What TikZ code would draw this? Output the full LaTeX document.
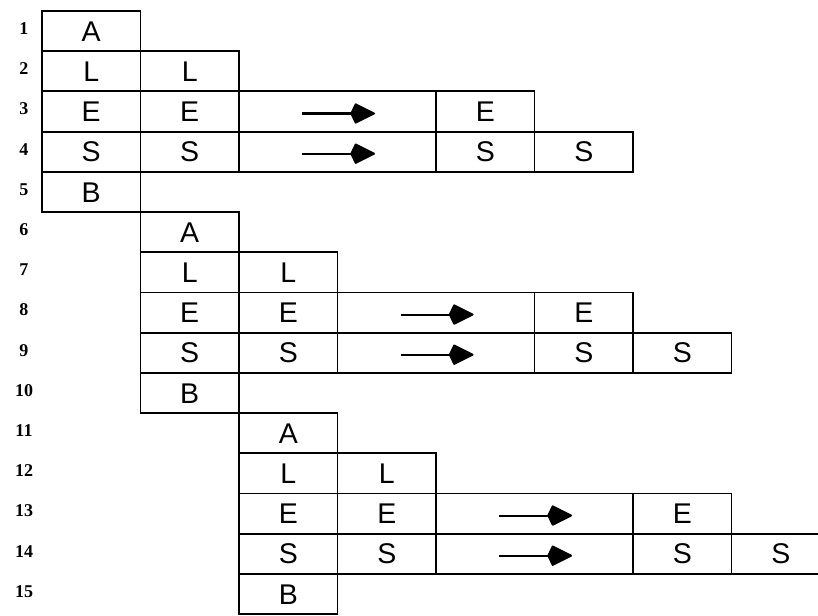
\documentclass[tikz,border=0pt]{standalone}
\usepackage{fontspec}
\setmainfont{Liberation Serif}
\newfontfamily\cellfont{Liberation Sans}
\usetikzlibrary{arrows.meta}

% one unit = one pixel of the 818 x 615 sheet; y grows downwards
\tikzset{
  cell/.style={draw, line width=1.8pt, rectangle,
    minimum width=98.5pt, minimum height=40.2pt, inner sep=0pt,
    text height=20.5pt, text depth=0pt,
    font=\cellfont\fontsize{28.5}{28.5}\selectfont},
  widecell/.style={cell, minimum width=197pt},
  rowno/.style={inner sep=0pt, font=\bfseries\fontsize{18}{18}\selectfont},
  movearrow/.style={line width=2pt,
    -{Kite[length=26pt,width=21pt,inset=5pt,round]}}
}

\begin{document}
\begin{tikzpicture}[x=1pt,y=-1pt]
\useasboundingbox (0,0) rectangle (818,615);
\clip (0,0) rectangle (818,615);

% row numbers on the left
\foreach \r in {1,...,15}
  \node[rowno] (n\r) at (24,{11+(\r-0.5)*40.2-2.5}) {\r};

% three staircase blocks, each shifted one column right and five rows down
\foreach \k in {0,1,2}{
  \pgfmathsetmacro\xa{42+(\k+0.5)*98.5}
  \pgfmathsetmacro\xb{\xa+98.5}
  \pgfmathsetmacro\xw{42+(\k+3)*98.5}
  \pgfmathsetmacro\xe{42+(\k+4.5)*98.5}
  \pgfmathsetmacro\xf{\xe+98.5}
  \pgfmathsetmacro\ya{11+(5*\k+0.5)*40.2}
  \pgfmathsetmacro\yb{\ya+40.2}
  \pgfmathsetmacro\yc{\ya+80.4}
  \pgfmathsetmacro\yd{\ya+120.6}
  \pgfmathsetmacro\ye{\ya+160.8}

  \node[cell] (a\k) at (\xa,\ya) {A};

  \node[cell] (la\k) at (\xa,\yb) {L};
  \node[cell] (lb\k) at (\xb,\yb) {L};

  \node[cell] (ea\k) at (\xa,\yc) {E};
  \node[cell] (eb\k) at (\xb,\yc) {E};
  \node[widecell] (ew\k) at (\xw,\yc) {};
  \node[cell] (ec\k) at (\xe,\yc) {E};

  \node[cell] (sa\k) at (\xa,\yd) {S};
  \node[cell] (sb\k) at (\xb,\yd) {S};
  \node[widecell] (sw\k) at (\xw,\yd) {};
  \node[cell] (sc\k) at (\xe,\yd) {S};
  \node[cell] (sd\k) at (\xf,\yd) {S};

  \node[cell] (b\k) at (\xa,\ye) {B};

  \draw[movearrow] ([shift={(-35.5,2)}]ew\k.center) -- ([shift={(37.5,2)}]ew\k.center);
  \draw[movearrow] ([shift={(-35.5,2)}]sw\k.center) -- ([shift={(37.5,2)}]sw\k.center);
}
\end{tikzpicture}
\end{document}
